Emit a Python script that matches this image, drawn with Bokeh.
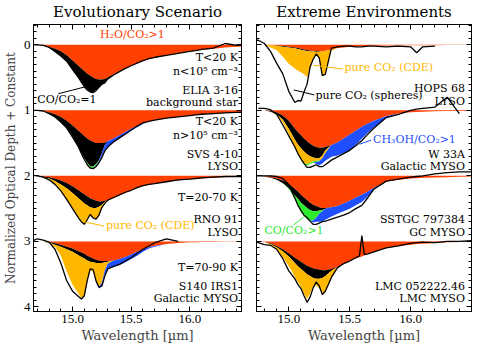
import numpy as np
from bokeh.plotting import figure
from bokeh.layouts import row
from bokeh.models import (Range1d, LinearAxis, FixedTicker, PrintfTickFormatter, Label,
                          CustomLabelingPolicy)
from bokeh.embed import file_html
from bokeh.resources import INLINE

nan = float("nan")

# common wavelength grid (micron)
wavelength = [14.65, 14.70, 14.75, 14.80, 14.85, 14.90, 14.95, 15.00, 15.05, 15.075,
              15.10, 15.125, 15.15, 15.175, 15.20, 15.225, 15.25, 15.275, 15.30, 15.35,
              15.40, 15.45, 15.50, 15.55, 15.60, 15.65, 15.70, 15.80, 15.90, 16.00,
              16.05, 16.10, 16.20, 16.30, 16.40, 16.50]

# ---------------- Evolutionary Scenario ----------------
elia_obs = [0.00, 0.00, 0.01, 0.04, 0.10, 0.17, 0.25, 0.38, 0.50, 0.57,
            0.64, 0.69, 0.72, 0.73, 0.70, 0.65, 0.60, 0.58, 0.52, 0.46,
            0.41, 0.36, 0.32, 0.28, 0.24, 0.21, 0.19, 0.16, 0.13, 0.10,
            0.09, 0.07, 0.05, -0.02, 0.01, 0.00]
elia_red = [0.00, 0.00, 0.01, 0.03, 0.06, 0.10, 0.16, 0.24, 0.32, 0.36,
            0.40, 0.44, 0.47, 0.50, 0.52, 0.53, 0.53, 0.52, 0.50, 0.45,
            0.40, 0.36, 0.32, 0.28, 0.25, 0.22, 0.20, 0.16, 0.13, 0.10,
            0.09, 0.08, 0.06, 0.04, 0.03, 0.02]
elia_black = [0.00, 0.00, 0.00, 0.01, 0.04, 0.07, 0.09, 0.14, 0.18, 0.20,
              0.23, 0.24, 0.25, 0.22, 0.17, 0.12, 0.08, 0.05, 0.03, 0.01,
              0.00, 0.00, 0.00, 0.00, 0.00, 0.00, 0.00, 0.00, 0.00, 0.00,
              0.00, 0.00, 0.00, 0.00, 0.00, 0.00]

svs_obs = [0.00, 0.00, 0.01, 0.05, 0.10, 0.18, 0.27, 0.41, 0.56, 0.66,
           0.75, 0.83, 0.88, 0.89, 0.86, 0.80, 0.72, 0.62, 0.56, 0.48,
           0.42, 0.36, 0.30, 0.24, 0.19, 0.17, 0.15, 0.12, 0.10, 0.08,
           0.07, 0.06, 0.05, 0.04, 0.03, 0.03]
svs_red = [0.00, 0.00, 0.01, 0.03, 0.06, 0.10, 0.16, 0.23, 0.31, 0.35,
           0.39, 0.43, 0.46, 0.48, 0.50, 0.50, 0.50, 0.49, 0.47, 0.43,
           0.38, 0.33, 0.28, 0.24, 0.20, 0.17, 0.15, 0.12, 0.10, 0.08,
           0.07, 0.06, 0.05, 0.04, 0.03, 0.025]
svs_black = [0.00, 0.00, 0.00, 0.01, 0.04, 0.08, 0.10, 0.17, 0.24, 0.30,
             0.34, 0.37, 0.39, 0.38, 0.32, 0.26, 0.15, 0.04, 0.00, 0.00,
             0.00, 0.00, 0.00, 0.00, 0.00, 0.00, 0.00, 0.00, 0.00, 0.00,
             0.00, 0.00, 0.00, 0.00, 0.00, 0.00]
svs_green = [0.00, 0.00, 0.00, 0.00, 0.00, 0.00, 0.00, 0.00, 0.00, 0.00,
             0.01, 0.02, 0.02, 0.02, 0.02, 0.01, 0.00, 0.00, 0.00, 0.00,
             0.00, 0.00, 0.00, 0.00, 0.00, 0.00, 0.00, 0.00, 0.00, 0.00,
             0.00, 0.00, 0.00, 0.00, 0.00, 0.00]
svs_blue = [0.00, 0.00, 0.00, 0.00, 0.00, 0.00, 0.00, 0.00, 0.00, 0.00,
            0.00, 0.00, 0.00, 0.00, 0.01, 0.03, 0.05, 0.07, 0.08, 0.06,
            0.05, 0.04, 0.03, 0.02, 0.01, 0.00, 0.00, 0.00, 0.00, 0.00,
            0.00, 0.00, 0.00, 0.00, 0.00, 0.00]

rno_obs = [-0.01, 0.00, 0.02, 0.06, 0.13, 0.23, 0.36, 0.50, 0.64, 0.70,
           0.74, 0.67, 0.59, 0.64, 0.66, 0.60, 0.48, 0.42, 0.37, 0.33,
           0.29, 0.25, 0.22, 0.18, 0.15, 0.13, 0.12, 0.09, 0.06, 0.05,
           0.04, 0.03, 0.02, 0.01, 0.01, 0.01]
rno_red = [0.00, 0.00, 0.01, 0.02, 0.04, 0.07, 0.11, 0.16, 0.22, 0.25,
           0.28, 0.31, 0.34, 0.36, 0.38, 0.39, 0.39, 0.38, 0.37, 0.34,
           0.30, 0.26, 0.22, 0.19, 0.16, 0.14, 0.12, 0.09, 0.07, 0.05,
           0.045, 0.04, 0.03, 0.02, 0.015, 0.01]
rno_black = [0.00, 0.00, 0.01, 0.02, 0.04, 0.06, 0.08, 0.10, 0.12, 0.13,
             0.14, 0.14, 0.14, 0.13, 0.11, 0.08, 0.05, 0.02, 0.00, 0.00,
             0.00, 0.00, 0.00, 0.00, 0.00, 0.00, 0.00, 0.00, 0.00, 0.00,
             0.00, 0.00, 0.00, 0.00, 0.00, 0.00]
rno_orange = [0.00, 0.00, 0.00, 0.02, 0.04, 0.09, 0.16, 0.24, 0.29, 0.31,
              0.31, 0.23, 0.12, 0.14, 0.17, 0.15, 0.06, 0.02, 0.01, 0.00,
              0.00, 0.00, 0.00, 0.00, 0.00, 0.00, 0.00, 0.00, 0.00, 0.00,
              0.00, 0.00, 0.00, 0.00, 0.00, 0.00]

s140_obs = [0.00, -0.04, -0.02, 0.01, 0.12, 0.33, 0.60, 0.76, 0.84, 0.88,
            0.83, 0.60, 0.42, 0.43, 0.60, 0.70, 0.68, 0.53, 0.42, 0.38,
            0.35, 0.30, 0.25, 0.18, 0.12, 0.07, 0.02, -0.04, 0.00, nan,
            nan, nan, nan, nan, nan, nan]
s140_red = [0.00, 0.00, 0.00, 0.01, 0.03, 0.05, 0.08, 0.11, 0.15, 0.17,
            0.19, 0.22, 0.24, 0.26, 0.28, 0.29, 0.30, 0.30, 0.30, 0.29,
            0.27, 0.24, 0.20, 0.16, 0.12, 0.09, 0.07, 0.04, 0.025, 0.015,
            0.012, 0.01, 0.01, 0.005, 0.005, 0.005]
s140_black = [0.00, 0.00, 0.00, 0.01, 0.02, 0.03, 0.04, 0.05, 0.06, 0.07,
              0.07, 0.07, 0.07, 0.06, 0.05, 0.04, 0.03, 0.02, 0.01, 0.00,
              0.00, 0.00, 0.00, 0.00, 0.00, 0.00, 0.00, 0.00, 0.00, 0.00,
              0.00, 0.00, 0.00, 0.00, 0.00, 0.00]
s140_orange = [0.00, 0.00, 0.00, 0.01, 0.03, 0.14, 0.34, 0.50, 0.59, 0.62,
               0.57, 0.33, 0.14, 0.14, 0.29, 0.36, 0.30, 0.12, 0.03, 0.00,
               0.00, 0.00, 0.00, 0.00, 0.00, 0.00, 0.00, 0.00, 0.00, 0.00,
               0.00, 0.00, 0.00, 0.00, 0.00, 0.00]
s140_blue = [0.00, 0.00, 0.00, 0.00, 0.00, 0.00, 0.00, 0.00, 0.00, 0.00,
             0.00, 0.00, 0.00, 0.00, 0.01, 0.03, 0.06, 0.06, 0.08, 0.10,
             0.09, 0.08, 0.07, 0.06, 0.04, 0.02, 0.01, 0.00, 0.00, 0.00,
             0.00, 0.00, 0.00, 0.00, 0.00, 0.00]

# ---------------- Extreme Environments ----------------
hops_obs = [nan, -0.07, -0.07, -0.02, 0.10, 0.28, 0.44, 0.71, 0.88, 0.85,
            0.86, 0.72, 0.60, 0.34, 0.22, 0.14, 0.20, 0.47, 0.45, 0.05,
            0.03, 0.02, 0.02, 0.03, 0.03, 0.02, 0.02, 0.03, 0.02, 0.03,
            0.12, 0.03, 0.02, nan, nan, nan]
hops_red = [0.00, 0.00, 0.00, 0.00, 0.005, 0.01, 0.02, 0.03, 0.04, 0.05,
            0.06, 0.07, 0.08, 0.09, 0.09, 0.10, 0.10, 0.10, 0.09, 0.07,
            0.05, 0.04, 0.03, 0.025, 0.02, 0.018, 0.015, 0.012, 0.01, 0.008,
            0.007, 0.006, 0.005, 0.004, 0.003, 0.003]
hops_black = [0.00, 0.00, 0.00, 0.00, 0.00, 0.005, 0.008, 0.01, 0.012, 0.014,
              0.015, 0.015, 0.015, 0.012, 0.01, 0.008, 0.005, 0.00, 0.00, 0.00,
              0.00, 0.00, 0.00, 0.00, 0.00, 0.00, 0.00, 0.00, 0.00, 0.00,
              0.00, 0.00, 0.00, 0.00, 0.00, 0.00]
hops_orange = [0.00, 0.00, 0.00, 0.00, 0.035, 0.065, 0.15, 0.25, 0.31, 0.33,
               0.345, 0.365, 0.40, 0.28, 0.10, 0.05, 0.095, 0.36, 0.34, 0.02,
               0.00, 0.00, 0.00, 0.00, 0.00, 0.00, 0.00, 0.00, 0.00, 0.00,
               0.00, 0.00, 0.00, 0.00, 0.00, 0.00]

w33a_obs = [nan, nan, -0.03, -0.03, -0.01, 0.06, 0.22, 0.39, 0.56, 0.66,
            0.74, 0.81, 0.87, 0.87, 0.85, 0.83, 0.86, 0.86, 0.83, 0.76,
            0.71, 0.66, 0.61, 0.54, 0.46, 0.36, 0.27, 0.11, 0.06, 0.00,
            -0.02, -0.03, -0.05, -0.20, 0.05, nan]
w33a_red = [0.00, 0.00, 0.00, 0.00, 0.01, 0.03, 0.08, 0.16, 0.28, 0.33,
            0.38, 0.43, 0.47, 0.51, 0.54, 0.56, 0.57, 0.57, 0.56, 0.53,
            0.49, 0.43, 0.37, 0.31, 0.25, 0.20, 0.16, 0.09, 0.05, 0.03,
            0.025, 0.02, 0.015, 0.01, 0.01, 0.01]
w33a_black = [0.00, 0.00, 0.00, 0.00, 0.01, 0.03, 0.06, 0.12, 0.17, 0.19,
              0.20, 0.20, 0.20, 0.19, 0.18, 0.17, 0.16, 0.12, 0.05, 0.00,
              0.00, 0.00, 0.00, 0.00, 0.00, 0.00, 0.00, 0.00, 0.00, 0.00,
              0.00, 0.00, 0.00, 0.00, 0.00, 0.00]
w33a_orange = [0.00, 0.00, 0.00, 0.00, 0.00, 0.01, 0.04, 0.08, 0.12, 0.15,
               0.17, 0.18, 0.15, 0.10, 0.06, 0.04, 0.04, 0.04, 0.04, 0.00,
               0.00, 0.00, 0.00, 0.00, 0.00, 0.00, 0.00, 0.00, 0.00, 0.00,
               0.00, 0.00, 0.00, 0.00, 0.00, 0.00]
w33a_green = [0.00, 0.00, 0.00, 0.00, 0.00, 0.00, 0.00, 0.00, 0.00, 0.00,
              0.01, 0.02, 0.02, 0.02, 0.02, 0.015, 0.01, 0.00, 0.00, 0.00,
              0.00, 0.00, 0.00, 0.00, 0.00, 0.00, 0.00, 0.00, 0.00, 0.00,
              0.00, 0.00, 0.00, 0.00, 0.00, 0.00]
w33a_blue = [0.00, 0.00, 0.00, 0.00, 0.00, 0.00, 0.00, 0.00, 0.00, 0.00,
             0.00, 0.00, 0.00, 0.00, 0.00, 0.03, 0.06, 0.08, 0.12, 0.18,
             0.20, 0.22, 0.24, 0.22, 0.18, 0.14, 0.10, 0.03, 0.00, 0.00,
             0.00, 0.00, 0.00, 0.00, 0.00, 0.00]

sstgc_obs = [nan, 0.00, 0.00, 0.00, 0.00, 0.01, 0.04, 0.13, 0.34, 0.45,
             0.53, 0.60, 0.64, 0.69, 0.74, 0.74, 0.72, 0.70, 0.69, 0.66,
             0.63, 0.60, 0.56, 0.50, 0.45, 0.33, 0.20, 0.08, 0.05, 0.02,
             0.01, 0.00, -0.03, -0.05, -0.06, -0.06]
sstgc_red = [0.00, 0.00, 0.00, 0.01, 0.02, 0.04, 0.07, 0.12, 0.20, 0.24,
             0.29, 0.33, 0.37, 0.41, 0.44, 0.46, 0.48, 0.49, 0.49, 0.48,
             0.46, 0.42, 0.38, 0.33, 0.29, 0.24, 0.18, 0.09, 0.06, 0.04,
             0.035, 0.03, 0.025, 0.02, 0.015, 0.01]
sstgc_black = [0.00, 0.00, 0.00, 0.00, 0.01, 0.02, 0.04, 0.07, 0.10, 0.11,
               0.12, 0.12, 0.12, 0.11, 0.10, 0.08, 0.05, 0.03, 0.01, 0.00,
               0.00, 0.00, 0.00, 0.00, 0.00, 0.00, 0.00, 0.00, 0.00, 0.00,
               0.00, 0.00, 0.00, 0.00, 0.00, 0.00]
sstgc_green = [0.00, 0.00, 0.00, 0.00, 0.00, 0.00, 0.00, 0.01, 0.05, 0.10,
               0.14, 0.16, 0.17, 0.16, 0.14, 0.10, 0.05, 0.02, 0.00, 0.00,
               0.00, 0.00, 0.00, 0.00, 0.00, 0.00, 0.00, 0.00, 0.00, 0.00,
               0.00, 0.00, 0.00, 0.00, 0.00, 0.00]
sstgc_blue = [0.00, 0.00, 0.00, 0.00, 0.00, 0.00, 0.00, 0.00, 0.00, 0.00,
              0.00, 0.00, 0.00, 0.00, 0.03, 0.06, 0.12, 0.16, 0.17, 0.14,
              0.12, 0.12, 0.12, 0.12, 0.11, 0.07, 0.03, 0.00, 0.00, 0.00,
              0.00, 0.00, 0.00, 0.00, 0.00, 0.00]

# LMC observed spectrum has its own sampling to keep the narrow emission spike
lmc_obs_wavelength = [14.70, 14.75, 14.80, 14.85, 14.90, 14.95, 15.00, 15.05,
                      15.075, 15.10, 15.125, 15.15, 15.175, 15.20, 15.225, 15.25, 15.275, 15.30,
                      15.35, 15.40, 15.45, 15.50, 15.55,
                      15.58, 15.60, 15.62, 15.65, 15.70,
                      15.80, 15.90, 16.00, 16.05, 16.10, 16.20, 16.30, 16.40, 16.50]
lmc_obs = [0.00, 0.02, 0.05, 0.06, 0.12, 0.26, 0.45, 0.57,
           0.66, 0.72, 0.83, 0.93, 0.85, 0.71, 0.62, 0.68, 0.81, 0.76,
           0.55, 0.40, 0.34, 0.30, 0.25,
           0.22, -0.09, 0.20, 0.19, 0.16,
           0.10, 0.07, 0.03, 0.02, 0.01, 0.02, 0.00, 0.00, -0.01]
lmc_red = [0.00, 0.00, 0.00, 0.01, 0.03, 0.07, 0.12, 0.18, 0.25, 0.28,
           0.31, 0.34, 0.37, 0.39, 0.41, 0.42, 0.43, 0.44, 0.44, 0.42,
           0.39, 0.34, 0.30, 0.26, 0.23, 0.19, 0.16, 0.10, 0.07, 0.05,
           0.04, 0.035, 0.025, 0.015, 0.01, 0.01]
lmc_black = [0.00, 0.00, 0.00, 0.00, 0.01, 0.02, 0.03, 0.05, 0.08, 0.10,
             0.11, 0.12, 0.13, 0.14, 0.15, 0.15, 0.14, 0.12, 0.09, 0.03,
             0.00, 0.00, 0.00, 0.00, 0.00, 0.00, 0.00, 0.00, 0.00, 0.00,
             0.00, 0.00, 0.00, 0.00, 0.00, 0.00]
lmc_orange = [0.00, 0.00, 0.00, 0.00, 0.02, 0.03, 0.09, 0.15, 0.21, 0.24,
              0.28, 0.34, 0.38, 0.27, 0.13, 0.10, 0.15, 0.22, 0.25, 0.10,
              0.00, 0.00, 0.00, 0.00, 0.00, 0.00, 0.00, 0.00, 0.00, 0.00,
              0.00, 0.00, 0.00, 0.00, 0.00, 0.00]

# ticks
x_major = [15.0, 15.5, 16.0]
x_minor = [14.6, 14.7, 14.8, 14.9, 15.1, 15.2, 15.3, 15.4, 15.6, 15.7, 15.8,
           15.9, 16.1, 16.2, 16.3, 16.4, 16.5, 16.6]
y_major = [0, 1, 2, 3, 4]
y_minor = [round(-0.3 + 0.1 * k, 2) for k in range(44)]

RED = "#FF4000"
ORANGE = "#FFB800"
BLUE = "#1F4FFF"
GREEN = "#2EEB2E"
BLACK = "#000000"

NOTE_FONT = "DejaVu Serif"

left_notes = [
    ("H\u2082O/CO\u2082>1", 15.51, -0.15, "center", RED),
    ("T<20 K", 16.41, 0.20, "right", BLACK),
    ("n<10\u2075 cm\u207b\u00b3", 16.41, 0.40, "right", BLACK),
    ("ELIA 3-16", 16.41, 0.69, "right", BLACK),
    ("background star", 16.41, 0.88, "right", BLACK),
    ("CO/CO\u2082=1", 14.70, 0.83, "left", BLACK),
    ("T<20 K", 16.41, 1.17, "right", BLACK),
    ("n>10\u2075 cm\u207b\u00b3", 16.41, 1.39, "right", BLACK),
    ("SVS 4-10", 16.41, 1.68, "right", BLACK),
    ("LYSO", 16.41, 1.85, "right", BLACK),
    ("T=20-70 K", 16.41, 2.33, "right", BLACK),
    ("RNO 91", 16.41, 2.67, "right", BLACK),
    ("LYSO", 16.41, 2.86, "right", BLACK),
    ("pure CO\u2082 (CDE)", 15.285, 2.75, "left", ORANGE),
    ("T=70-90 K", 16.41, 3.40, "right", BLACK),
    ("S140 IRS1", 16.41, 3.69, "right", BLACK),
    ("Galactic MYSO", 16.41, 3.87, "right", BLACK),
]
left_leaders = [
    (14.878, 0.747, 15.228, 0.586, BLACK),
    (15.081, 2.694, 15.268, 2.767, ORANGE),
]

right_notes = [
    ("pure CO\u2082 (CDE)", 15.457, 0.35, "left", ORANGE),
    ("pure CO\u2082 (spheres)", 15.22, 0.77, "left", BLACK),
    ("HOPS 68", 16.446, 0.67, "right", BLACK),
    ("LYSO", 16.446, 0.87, "right", BLACK),
    ("CH\u2083OH/CO\u2082>1", 15.692, 1.45, "left", BLUE),
    ("W 33A", 16.446, 1.67, "right", BLACK),
    ("Galactic MYSO", 16.446, 1.86, "right", BLACK),
    ("SSTGC 797384", 16.446, 2.67, "right", BLACK),
    ("GC MYSO", 16.446, 2.86, "right", BLACK),
    ("CO/CO\u2082>1", 14.80, 2.84, "left", GREEN),
    ("LMC 052222.46", 16.446, 3.69, "right", BLACK),
    ("LMC MYSO", 16.446, 3.87, "right", BLACK),
]
right_leaders = [
    (15.203, 0.312, 15.446, 0.37, ORANGE),
    (15.04, 0.688, 15.21, 0.765, BLACK),
    (15.58, 1.518, 15.676, 1.454, BLUE),
    (15.04, 2.75, 15.12, 2.63, GREEN),
]

left_spectra = [
    (0, wavelength, elia_obs, [(elia_red, RED), (elia_black, BLACK)]),
    (1, wavelength, svs_obs, [(svs_red, RED), (svs_black, BLACK), (svs_green, GREEN),
                              (svs_blue, BLUE)]),
    (2, wavelength, rno_obs, [(rno_red, RED), (rno_black, BLACK), (rno_orange, ORANGE)]),
    (3, wavelength, s140_obs, [(s140_red, RED), (s140_black, BLACK), (s140_orange, ORANGE),
                               (s140_blue, BLUE)]),
]
right_spectra = [
    (0, wavelength, hops_obs, [(hops_red, RED), (hops_black, BLACK), (hops_orange, ORANGE)]),
    (1, wavelength, w33a_obs, [(w33a_red, RED), (w33a_black, BLACK), (w33a_orange, ORANGE),
                               (w33a_green, GREEN), (w33a_blue, BLUE)]),
    (2, wavelength, sstgc_obs, [(sstgc_red, RED), (sstgc_black, BLACK), (sstgc_green, GREEN),
                                (sstgc_blue, BLUE)]),
    (3, lmc_obs_wavelength, lmc_obs, [(lmc_red, RED), (lmc_black, BLACK), (lmc_orange, ORANGE)]),
]


def style_axis(ax, labels):
    ax.axis_line_color = "black"
    ax.axis_line_width = 1
    ax.major_tick_in = 5
    ax.major_tick_out = 0
    ax.minor_tick_in = 3
    ax.minor_tick_out = 0
    ax.major_tick_line_color = "black"
    ax.minor_tick_line_color = "black"
    if labels:
        ax.major_label_text_font = "Liberation Serif"
        ax.major_label_text_font_size = "13px"
        ax.major_label_text_color = "black"
        ax.major_label_standoff = 3
    else:
        ax.major_label_text_font_size = "1px"
        ax.major_label_standoff = 0
        ax.major_label_policy = CustomLabelingPolicy(code="return []")


def make_panel(title, xr, width, bl, br, ylabel, spectra, notes, leaders):
    p = figure(width=width, height=345, x_range=Range1d(*xr), y_range=Range1d(4.07, -0.31),
               output_backend="svg", toolbar_location=None,
               min_border_left=bl, min_border_right=br, min_border_top=0, min_border_bottom=0)
    p.title.text = title
    p.title.align = "center"
    p.title.text_font = "DejaVu Serif"
    p.title.text_font_size = "15px"
    p.title.text_font_style = "normal"
    p.title.text_color = "black"
    p.title.standoff = 0
    p.xgrid.visible = False
    p.ygrid.visible = False
    p.outline_line_color = "black"
    p.background_fill_color = "white"
    p.border_fill_color = "white"

    xb = p.below[0]
    xb.ticker = FixedTicker(ticks=x_major, minor_ticks=x_minor)
    xb.formatter = PrintfTickFormatter(format="%.1f")
    style_axis(xb, True)
    xb.axis_label = "Wavelength [\u00b5m]"
    xb.axis_label_text_font = "DejaVu Serif"
    xb.axis_label_text_font_size = "13px"
    xb.axis_label_text_font_style = "normal"
    xb.axis_label_standoff = 2

    yl = p.left[0]
    yl.ticker = FixedTicker(ticks=y_major, minor_ticks=y_minor)
    style_axis(yl, ylabel is not None)
    if ylabel is not None:
        yl.axis_label = ylabel
        yl.axis_label_text_font = "DejaVu Serif"
        yl.axis_label_text_font_size = "12px"
        yl.axis_label_text_font_style = "normal"
        yl.axis_label_standoff = 3

    yr = LinearAxis(ticker=FixedTicker(ticks=y_major, minor_ticks=y_minor))
    style_axis(yr, False)
    p.add_layout(yr, "right")
    xa = LinearAxis(ticker=FixedTicker(ticks=x_major, minor_ticks=x_minor))
    style_axis(xa, False)
    p.add_layout(xa, "above")

    for offset, obs_wl, obs, layers in spectra:
        base = np.full(len(wavelength), float(offset))
        for values, color in layers:
            top = base + np.asarray(values, dtype=float)
            p.varea(x=wavelength, y1=base, y2=top, fill_color=color, fill_alpha=1.0)
            base = top
        p.line(obs_wl, np.asarray(obs, dtype=float) + offset,
               line_color="black", line_width=1.3)

    for x0, y0, x1, y1, color in leaders:
        p.segment(x0=[x0], y0=[y0], x1=[x1], y1=[y1], line_color=color, line_width=1)

    for text, x, y, align, color in notes:
        p.add_layout(Label(x=x, y=y, text=text, text_align=align, text_baseline="middle",
                           text_font=NOTE_FONT, text_font_size="11px", text_color=color))
    return p


p1 = make_panel("Evolutionary Scenario", (14.667, 16.44), 248, 0, 7,
                "Normalized Optical Depth + Constant", left_spectra, left_notes, left_leaders)
p2 = make_panel("Extreme Environments", (14.735, 16.50), 227, 8, 1,
                None, right_spectra, right_notes, right_leaders)

p = row(p1, p2)
open("out.html", "w").write(file_html(p, INLINE))
